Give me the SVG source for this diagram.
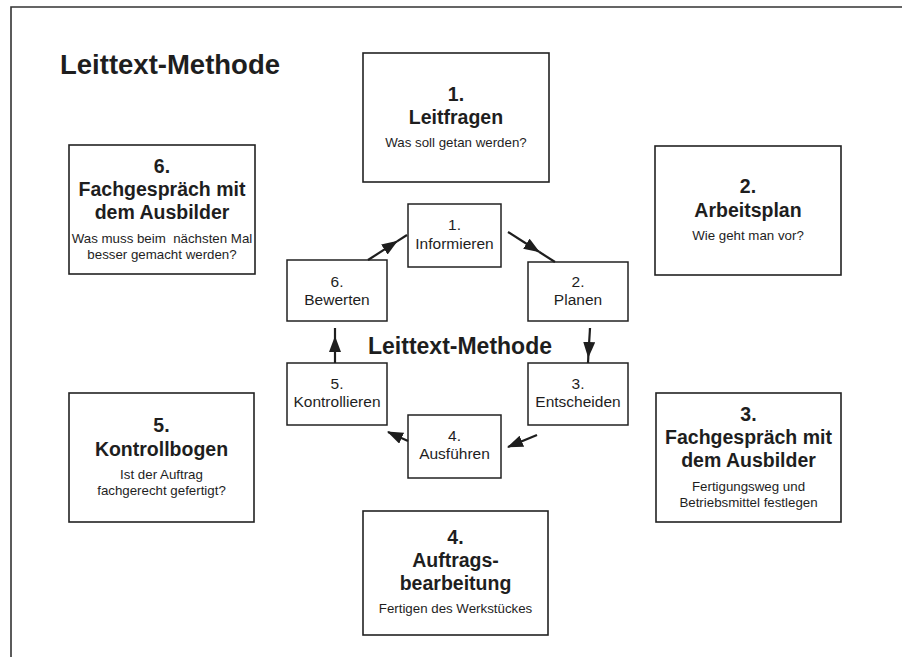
<svg xmlns="http://www.w3.org/2000/svg" width="902" height="657" viewBox="0 0 902 657">
<style>
.box{fill:#fff;stroke:#222;stroke-width:1.6}
.sbox{fill:#fff;stroke:#222;stroke-width:1.5}
text{font-family:"Liberation Sans",Arial,sans-serif;fill:#1e1e1e;text-anchor:middle}
.h{font-size:19.5px;font-weight:bold}
.s{font-size:13.3px}
.i{font-size:15.5px}
.con{stroke:#1e1e1e;stroke-width:2.2;fill:none}
.frame{stroke:#333;stroke-width:1.6;fill:none}
</style>
<defs>
<marker id="ah" viewBox="0 0 16 12" refX="15" refY="6" markerWidth="16" markerHeight="12" markerUnits="userSpaceOnUse" orient="auto">
<path d="M0,0 L16,6 L0,12 z" fill="#1e1e1e"/>
</marker>
</defs>
<rect x="0" y="0" width="902" height="657" fill="#fff"/>
<path class="frame" d="M11,657 L11,7 L902,7"/>
<text x="60" y="74" style="font-size:27.5px;font-weight:bold;text-anchor:start">Leittext-Methode</text>

<g id="n-leitfragen">
<rect class="box" x="363" y="53" width="186" height="129"/>
<text class="h" x="456" y="101">1.</text>
<text class="h" x="456" y="124">Leitfragen</text>
<text class="s" x="456" y="147">Was soll getan werden?</text>
</g>
<g id="n-arbeitsplan">
<rect class="box" x="655" y="146" width="186" height="129"/>
<text class="h" x="748" y="193">2.</text>
<text class="h" x="748" y="217">Arbeitsplan</text>
<text class="s" x="748" y="240">Wie geht man vor?</text>
</g>
<g id="n-fachgespraech3">
<rect class="box" x="656" y="393" width="185" height="129"/>
<text class="h" x="748.5" y="421">3.</text>
<text class="h" x="748.5" y="444">Fachgespräch mit</text>
<text class="h" x="748.5" y="467">dem Ausbilder</text>
<text class="s" x="748.5" y="491">Fertigungsweg und</text>
<text class="s" x="748.5" y="507">Betriebsmittel festlegen</text>
</g>
<g id="n-auftrag">
<rect class="box" x="363" y="511" width="185" height="124"/>
<text class="h" x="455.5" y="544">4.</text>
<text class="h" x="455.5" y="567">Auftrags-</text>
<text class="h" x="455.5" y="590">bearbeitung</text>
<text class="s" x="455.5" y="613">Fertigen des Werkstückes</text>
</g>
<g id="n-kontrollbogen">
<rect class="box" x="69" y="393" width="185" height="129"/>
<text class="h" x="161.5" y="432">5.</text>
<text class="h" x="161.5" y="456">Kontrollbogen</text>
<text class="s" x="161.5" y="479">Ist der Auftrag</text>
<text class="s" x="161.5" y="495">fachgerecht gefertigt?</text>
</g>
<g id="n-fachgespraech6">
<rect class="box" x="69" y="145" width="186" height="129"/>
<text class="h" x="162" y="173">6.</text>
<text class="h" x="162" y="196">Fachgespräch mit</text>
<text class="h" x="162" y="219">dem Ausbilder</text>
<text class="s" x="162" y="243" xml:space="preserve">Was muss beim  nächsten Mal</text>
<text class="s" x="162" y="259">besser gemacht werden?</text>
</g>

<g id="n-informieren">
<rect class="sbox" x="408" y="204" width="93" height="63"/>
<text class="i" x="454.5" y="230">1.</text>
<text class="i" x="454.5" y="249">Informieren</text>
</g>
<g id="n-planen">
<rect class="sbox" x="528" y="262" width="100" height="59"/>
<text class="i" x="578" y="287">2.</text>
<text class="i" x="578" y="305">Planen</text>
</g>
<g id="n-entscheiden">
<rect class="sbox" x="528" y="363" width="100" height="62"/>
<text class="i" x="578" y="389">3.</text>
<text class="i" x="578" y="407">Entscheiden</text>
</g>
<g id="n-ausfuehren">
<rect class="sbox" x="408" y="415" width="93" height="63"/>
<text class="i" x="454.5" y="441">4.</text>
<text class="i" x="454.5" y="459">Ausführen</text>
</g>
<g id="n-kontrollieren">
<rect class="sbox" x="287" y="363" width="100" height="62"/>
<text class="i" x="337" y="389">5.</text>
<text class="i" x="337" y="407">Kontrollieren</text>
</g>
<g id="n-bewerten">
<rect class="sbox" x="287" y="260" width="100" height="61"/>
<text class="i" x="337" y="287">6.</text>
<text class="i" x="337" y="305">Bewerten</text>
</g>
<g id="n-center">
<text x="460" y="354" style="font-size:23px;font-weight:bold">Leittext-Methode</text>
</g>

<g id="connectors">
<path class="con" d="M508,232 L539,251.8" marker-end="url(#ah)"/>
<path class="con" d="M539,251.8 L555,262"/>
<path class="con" d="M590,328 L588.3,357" marker-end="url(#ah)"/>
<path class="con" d="M588.3,357 L588,363"/>
<path class="con" d="M537,435 L508,447" marker-end="url(#ah)"/>
<path class="con" d="M408,441 L388,432" marker-end="url(#ah)"/>
<path class="con" d="M335,363 L335,337" marker-end="url(#ah)"/>
<path class="con" d="M335,337 L335,328"/>
<path class="con" d="M368,260 L397,241.4" marker-end="url(#ah)"/>
<path class="con" d="M397,241.4 L407,235"/>
</g>
</svg>
